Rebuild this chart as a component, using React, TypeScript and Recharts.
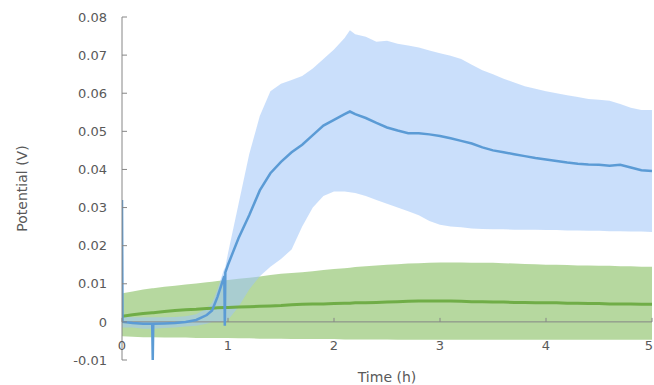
import React from "react";
import {
  ComposedChart,
  Area,
  Line,
  XAxis,
  YAxis,
  ReferenceLine,
} from "recharts";

// Time (h)
const time = [
  0, 0.005, 0.1, 0.2, 0.285, 0.29, 0.295, 0.4, 0.5, 0.6,
  0.7, 0.8, 0.85, 0.9, 0.965, 0.97, 0.975, 1.0, 1.1, 1.2,
  1.3, 1.4, 1.5, 1.6, 1.7, 1.8, 1.9, 2.0, 2.1, 2.15,
  2.2, 2.3, 2.4, 2.5, 2.6, 2.7, 2.8, 2.9, 3.0, 3.1,
  3.2, 3.3, 3.4, 3.5, 3.6, 3.7, 3.8, 3.9, 4.0, 4.1,
  4.2, 4.3, 4.4, 4.5, 4.6, 4.7, 4.8, 4.9, 5.0,
];

// Blue series (mean and band)
const blueMean = [
  0.032, 0.0, -0.0003, -0.0005, -0.0005, -0.01, -0.0005, -0.0004, -0.0003, 0.0,
  0.0005, 0.0018, 0.003, 0.0065, 0.012, -0.001, 0.013, 0.015, 0.022, 0.028,
  0.0345, 0.039, 0.042, 0.0445, 0.0465, 0.049, 0.0515, 0.053, 0.0545, 0.0552,
  0.0545, 0.0535, 0.0522, 0.051, 0.0502, 0.0495, 0.0495, 0.0492, 0.0488, 0.0482,
  0.0475, 0.0468, 0.0458, 0.045, 0.0445, 0.044, 0.0435, 0.043, 0.0426, 0.0422,
  0.0418, 0.0415, 0.0413, 0.0412, 0.041, 0.0412, 0.0405, 0.0398, 0.0396,
];
const blueHigh = [
  0.0015, 0.0015, 0.0012, 0.0012, 0.0012, 0.0012, 0.0012, 0.0012, 0.0013, 0.0015,
  0.002, 0.0035, 0.005, 0.0085, 0.014, 0.014, 0.0145, 0.018, 0.031, 0.044,
  0.054, 0.0605, 0.0625, 0.0635, 0.0645, 0.0665, 0.069, 0.0715, 0.0745, 0.0765,
  0.0755, 0.0748, 0.0735, 0.0738, 0.073, 0.0725, 0.072, 0.0712, 0.0705, 0.0698,
  0.069, 0.0675, 0.066, 0.065, 0.0638, 0.0628, 0.0618, 0.0612, 0.0605, 0.06,
  0.0595, 0.059, 0.0585, 0.0583, 0.058, 0.0572, 0.0562, 0.0556, 0.0556,
];
const blueLow = [
  -0.0015, -0.0015, -0.0015, -0.0018, -0.0018, -0.0018, -0.0018, -0.0016, -0.0015, -0.0012,
  -0.001, -0.0005, 0.0, 0.0, 0.0, 0.0, 0.0, 0.0005, 0.004, 0.0085,
  0.012, 0.0145, 0.0165, 0.019, 0.025, 0.03, 0.033, 0.0342, 0.0342, 0.034,
  0.0338, 0.033, 0.032, 0.031, 0.03, 0.029, 0.028, 0.0265, 0.0255, 0.025,
  0.0248, 0.0245, 0.0244, 0.0243, 0.0243, 0.0242, 0.0242, 0.0242, 0.0241, 0.0241,
  0.024, 0.024, 0.0239, 0.0239, 0.0238, 0.0238, 0.0237, 0.0237, 0.0236,
];

// Green series (mean and band)
const greenMean = [
  0.0015, 0.0015, 0.0019, 0.0022, 0.0024, 0.0024, 0.0024, 0.0027, 0.003, 0.0032,
  0.0033, 0.0035, 0.0036, 0.0037, 0.0038, 0.0038, 0.0038, 0.0038, 0.0039, 0.004,
  0.0041, 0.0042, 0.0043, 0.0045, 0.0046, 0.0047, 0.0047, 0.0048, 0.0049, 0.0049,
  0.005, 0.005, 0.0051, 0.0052, 0.0053, 0.0054, 0.0055, 0.0055, 0.0055, 0.0055,
  0.0054, 0.0053, 0.0053, 0.0052, 0.0052, 0.0051, 0.0051, 0.005, 0.005, 0.005,
  0.0049, 0.0049, 0.0048, 0.0048, 0.0047, 0.0047, 0.0047, 0.0046, 0.0046,
];
const greenHigh = [
  0.0075, 0.0075, 0.008, 0.0085, 0.0088, 0.0088, 0.0088, 0.0092, 0.0095, 0.0098,
  0.0101, 0.0104, 0.0105, 0.0107, 0.0109, 0.0109, 0.0109, 0.011, 0.0113, 0.0116,
  0.0119, 0.0123, 0.0126, 0.0128, 0.013, 0.0133, 0.0136, 0.0139, 0.0141, 0.0142,
  0.0144, 0.0146, 0.0148, 0.015, 0.0151, 0.0153, 0.0154, 0.0155, 0.0156, 0.0156,
  0.0156, 0.0155, 0.0155, 0.0155, 0.0154, 0.0153, 0.0152, 0.0151, 0.015, 0.015,
  0.0149, 0.0148, 0.0148, 0.0147, 0.0147, 0.0146, 0.0146, 0.0145, 0.0145,
];
const greenLow = [
  -0.0038, -0.0038, -0.0039, -0.004, -0.004, -0.004, -0.004, -0.0041, -0.0041, -0.0041,
  -0.0042, -0.0042, -0.0042, -0.0042, -0.0042, -0.0042, -0.0042, -0.0042, -0.0043, -0.0043,
  -0.0044, -0.0044, -0.0044, -0.0045, -0.0045, -0.0045, -0.0045, -0.0045, -0.0046, -0.0046,
  -0.0046, -0.0046, -0.0046, -0.0046, -0.0047, -0.0047, -0.0047, -0.0047, -0.0047, -0.0047,
  -0.0047, -0.0047, -0.0047, -0.0047, -0.0047, -0.0047, -0.0047, -0.0047, -0.0047, -0.0047,
  -0.0047, -0.0047, -0.0047, -0.0047, -0.0047, -0.0047, -0.0047, -0.0047, -0.0047,
];

const xTicks = [0, 1, 2, 3, 4, 5];
const yTicks = [-0.01, 0, 0.01, 0.02, 0.03, 0.04, 0.05, 0.06, 0.07, 0.08];
const Y_MIN = -0.01;
const Y_MAX = 0.08;

const rows = time.map((t, i) => ({
  t,
  blueMean: blueMean[i],
  blueBand: [blueLow[i], blueHigh[i]],
  greenMean: greenMean[i],
  greenBand: [greenLow[i], greenHigh[i]],
}));

const W = 654;
const H = 385;
const M_TOP = 17;
const X_AXIS_H = 25;
const PLOT_H = H - M_TOP - X_AXIS_H;
const ZERO_OFFSET = (PLOT_H * (0 - Y_MIN)) / (Y_MAX - Y_MIN);

const FONT = "DejaVu Sans";
const TXT = "#595959";
const AXIS = "#868686";

const fmtY = (v: number) => (v === 0 ? "0" : v.toFixed(2));

const YTick = (props: any) => {
  const { x, y, payload } = props;
  return (
    <g>
      <line x1={x + 15} x2={x + 20} y1={y} y2={y} stroke={AXIS} strokeWidth={1} />
      <text
        x={x}
        y={y}
        dy="0.36em"
        textAnchor="end"
        fill={TXT}
        fontSize={13}
        fontFamily={FONT}
      >
        {fmtY(payload.value)}
      </text>
    </g>
  );
};

const XTick = (props: any) => {
  const { x, y, payload } = props;
  const zy = y - ZERO_OFFSET;
  const nearEdge = x + 5 > W;
  return (
    <g>
      <line x1={x} x2={x} y1={zy} y2={zy - 4} stroke={AXIS} strokeWidth={1} />
      <text
        x={nearEdge ? W - 1 : x}
        y={zy + 28}
        textAnchor={nearEdge ? "end" : "middle"}
        fill={TXT}
        fontSize={13}
        fontFamily={FONT}
      >
        {payload.value}
      </text>
    </g>
  );
};

export default function App() {
  return (
    <div style={{ position: "absolute", left: 0, top: 0, width: W, height: H, background: "#fff" }}>
      <ComposedChart
        width={W}
        height={H}
        data={rows}
        margin={{ top: M_TOP, right: 2, bottom: 0, left: 0 }}
        style={{ fontFamily: FONT }}
      >
        <XAxis
          dataKey="t"
          type="number"
          domain={[0, 5]}
          ticks={xTicks}
          allowDataOverflow
          height={X_AXIS_H}
          axisLine={false}
          tickLine={false}
          tickSize={0}
          tickMargin={0}
          tick={XTick}
          interval={0}
          label={{
            value: "Time (h)",
            position: "insideBottom",
            offset: 3,
            fill: TXT,
            fontSize: 14,
            fontFamily: FONT,
          }}
        />
        <YAxis
          type="number"
          domain={[Y_MIN, Y_MAX]}
          ticks={yTicks}
          allowDataOverflow
          width={122}
          axisLine={{ stroke: AXIS, strokeWidth: 1 }}
          tickLine={false}
          tickSize={0}
          tickMargin={15}
          tick={YTick}
          interval={0}
          label={{
            value: "Potential (V)",
            angle: -90,
            position: "insideLeft",
            offset: 22,
            fill: TXT,
            fontSize: 14,
            fontFamily: FONT,
            style: { textAnchor: "middle" },
          }}
        />
        <Area
          dataKey="greenBand"
          type="linear"
          stroke="none"
          fill="#a9d18e"
          fillOpacity={0.85}
          isAnimationActive={false}
          dot={false}
          activeDot={false}
        />
        <Area
          dataKey="blueBand"
          type="linear"
          stroke="none"
          fill="#9fc5f8"
          fillOpacity={0.55}
          isAnimationActive={false}
          dot={false}
          activeDot={false}
        />
        <ReferenceLine y={0} stroke={AXIS} strokeWidth={1} />
        <Line
          dataKey="greenMean"
          type="linear"
          stroke="#70ad47"
          strokeWidth={3}
          dot={false}
          activeDot={false}
          isAnimationActive={false}
        />
        <Line
          dataKey="blueMean"
          type="linear"
          stroke="#5b9bd5"
          strokeWidth={2.5}
          dot={false}
          activeDot={false}
          isAnimationActive={false}
        />
      </ComposedChart>
    </div>
  );
}
